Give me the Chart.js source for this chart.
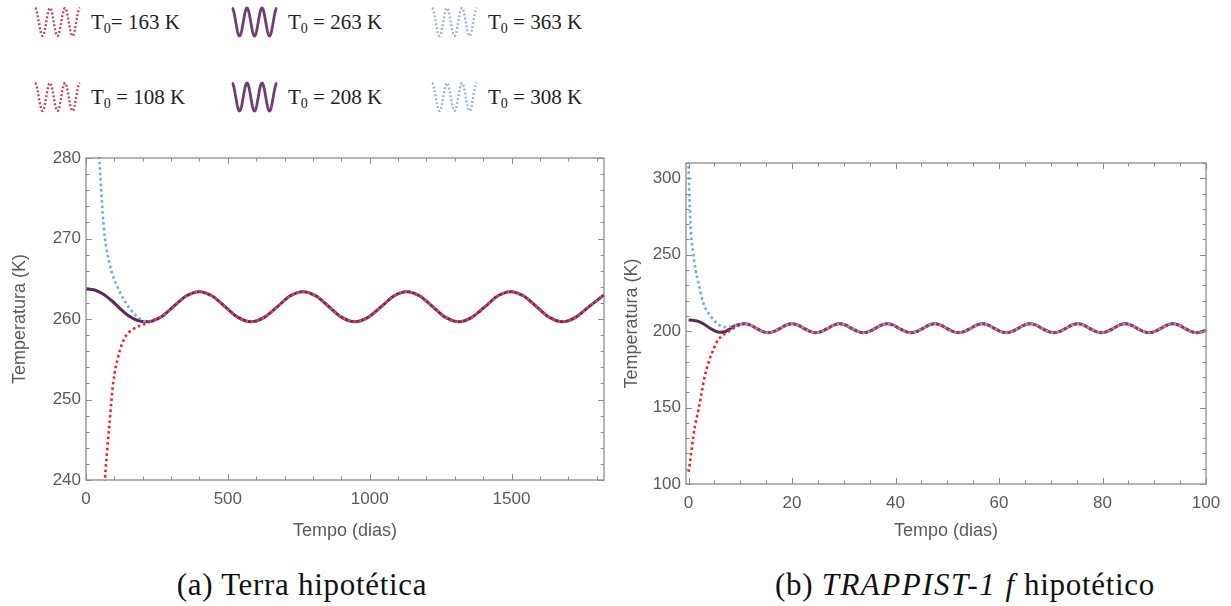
<!DOCTYPE html>
<html>
<head>
<meta charset="utf-8">
<script src="https://cdn.jsdelivr.net/npm/chart.js@4.4.1/dist/chart.umd.min.js"></script>
<style>
body{margin:0;background:#fff;width:1231px;height:606px;overflow:hidden;position:relative}
.painel{position:absolute;top:140px}
#painelA{left:0}
#painelB{left:615px}
.leg{position:absolute;display:flex;align-items:center;font-family:"Liberation Serif",serif;font-size:21px;color:#222;white-space:nowrap}
.leg canvas{margin-right:8px}
.leg sub{font-size:14px;vertical-align:-4px;line-height:0}
.legenda{position:absolute;top:567px;font-family:"Liberation Serif",serif;font-size:31px;letter-spacing:0.7px;color:#111;transform:translateX(-50%);white-space:nowrap}
.legenda i{letter-spacing:1.5px}
</style>
</head>
<body>

<div class="leg" style="left:33px;top:5px"><canvas id="ic1" width="50" height="34"></canvas><span>T<sub>0</sub>= 163 K</span></div>
<div class="leg" style="left:230px;top:5px"><canvas id="ic2" width="50" height="34"></canvas><span>T<sub>0</sub> = 263 K</span></div>
<div class="leg" style="left:430px;top:5px"><canvas id="ic3" width="50" height="34"></canvas><span>T<sub>0</sub> = 363 K</span></div>
<div class="leg" style="left:33px;top:80px"><canvas id="ic4" width="50" height="34"></canvas><span>T<sub>0</sub> = 108 K</span></div>
<div class="leg" style="left:230px;top:80px"><canvas id="ic5" width="50" height="34"></canvas><span>T<sub>0</sub> = 208 K</span></div>
<div class="leg" style="left:430px;top:80px"><canvas id="ic6" width="50" height="34"></canvas><span>T<sub>0</sub> = 308 K</span></div>

<div class="painel" id="painelA"><canvas id="terra" width="620" height="420"></canvas></div>
<div class="painel" id="painelB"><canvas id="trappist" width="616" height="420"></canvas></div>

<div class="legenda" style="left:302px">(a) Terra hipotética</div>
<div class="legenda" style="left:965px">(b) <i>TRAPPIST-1 f</i> hipotético</div>

<script>
// =============================
// DADOS - (a) Terra hipotetica
// =============================

// regime oscilante comum as tres curvas (dias, K)
const terraCicloX = [216,262,307,353,399,445,491,536,582,628,674,719,765,811,857,902,948,994,
  1040,1085,1131,1177,1223,1268,1314,1360,1406,1451,1497,1543,1589,1634,1680,1726,1772,1826]
const terraCicloT = [
  259.65,260.2,261.5,262.85,263.4,262.85,261.5,260.2,
  259.65,260.2,261.5,262.85,263.4,262.85,261.5,260.2,
  259.65,260.2,261.5,262.85,263.4,262.85,261.5,260.2,
  259.65,260.2,261.5,262.85,263.4,262.85,261.5,260.2,
  259.65,260.2,261.5,263.0]

// transientes
const terra263X = [0,30,60,90,120,150,180]
const terra263T = [263.7,263.6,263.1,262.3,261.3,260.4,259.85]
const terra363X = [20,30,40,47,52,59,67,79,91,108,132,155,184]
const terra363T = [313,297,286,280,277,273,270,267.5,265.8,264.2,262.5,261.25,260.2]
const terra163X = [50,60,67,75,82,96,114,137,167,208,240]
const terra163T = [228,235,240.2,243.8,246.7,252.1,255.4,257.7,258.75,259.4,259.9]

// =============================
// DADOS - (b) TRAPPIST-1 f
// =============================

const trapCicloX = [10.8,11.95,13.1,14.25,15.4,16.55,17.7,18.85,20.0,21.15,22.3,23.45,24.6,25.75,
  26.9,28.05,29.2,30.35,31.5,32.65,33.8,34.95,36.1,37.25,38.4,39.55,40.7,41.85,43.0,44.15,45.3,
  46.45,47.6,48.75,49.9,51.05,52.2,53.35,54.5,55.65,56.8,57.95,59.1,60.25,61.4,62.55,63.7,64.85,
  66.0,67.15,68.3,69.45,70.6,71.75,72.9,74.05,75.2,76.35,77.5,78.65,79.8,80.95,82.1,83.25,84.4,
  85.55,86.7,87.85,89.0,90.15,91.3,92.45,93.6,94.75,95.9,97.05,98.2,99.35,100]
const trapCicloT = [
  204.8,203.9,201.85,199.8,198.9,199.8,201.85,203.9,
  204.8,203.9,201.85,199.8,198.9,199.8,201.85,203.9,
  204.8,203.9,201.85,199.8,198.9,199.8,201.85,203.9,
  204.8,203.9,201.85,199.8,198.9,199.8,201.85,203.9,
  204.8,203.9,201.85,199.8,198.9,199.8,201.85,203.9,
  204.8,203.9,201.85,199.8,198.9,199.8,201.85,203.9,
  204.8,203.9,201.85,199.8,198.9,199.8,201.85,203.9,
  204.8,203.9,201.85,199.8,198.9,199.8,201.85,203.9,
  204.8,203.9,201.85,199.8,198.9,199.8,201.85,203.9,
  204.8,203.9,201.85,199.8,198.9,199.8,200.8]

const trap208X = [0,1,2,3,4,5,6,7,8,9,10]
const trap208T = [207.3,207.0,206.2,204.5,202.2,200.3,199.3,199.6,201.6,203.6,204.6]
const trap308X = [0,0.1,0.25,0.45,0.9,1.35,1.9,2.5,3.1,4.1,5.1,6.3,7.5,8.5,9.6]
const trap308T = [308,295,280,265,251,240,231.5,222.5,216,210.5,206.3,203.3,202.6,203.2,204.3]
const trap108X = [0,0.25,0.6,0.9,1.35,1.9,2.5,3.1,3.8,4.75,5.7,7.6,9.2]
const trap108T = [108,113.5,123.3,130.9,139.7,148.4,159.3,170.2,178.9,187.6,194.2,199.6,202.9]

// =============================
// CORES
// =============================

const VERMELHO = "#ff1a1a"
const AZUL = "#66aaf2"
const ROXO = "#5c2a5e"
const CINZA = "#8c8c8c"
const TEXTO = "#5a5a5a"


function pontos(xs, ts){
  return xs.map((x,i)=>({x:x, y:ts[i]}))
}

function ehMaior(v, passo){
  const r = v/passo
  return Math.abs(r-Math.round(r)) < 1e-6
}


// =============================
// MOLDURA COM TICKS PARA DENTRO
// =============================

const moldura = {
  id:"moldura",
  afterDraw(chart, args, opts){
    const {ctx, chartArea:a, scales} = chart
    ctx.save()
    ctx.strokeStyle = CINZA
    ctx.lineWidth = 1
    ctx.beginPath()
    scales.x.ticks.forEach(t=>{
      const p = Math.round(scales.x.getPixelForValue(t.value))+0.5
      const l = ehMaior(t.value, opts.xMaior) ? 6 : 3.5
      ctx.moveTo(p, a.bottom); ctx.lineTo(p, a.bottom-l)
      ctx.moveTo(p, a.top); ctx.lineTo(p, a.top+l)
    })
    scales.y.ticks.forEach(t=>{
      const p = Math.round(scales.y.getPixelForValue(t.value))+0.5
      const l = ehMaior(t.value, opts.yMaior) ? 6 : 3.5
      ctx.moveTo(a.left, p); ctx.lineTo(a.left+l, p)
      ctx.moveTo(a.right, p); ctx.lineTo(a.right-l, p)
    })
    ctx.stroke()
    ctx.lineWidth = 1.3
    ctx.strokeRect(a.left, a.top, a.right-a.left, a.bottom-a.top)
    ctx.restore()
  }
}


function serie(dados, cor, pontilhada, ordem){
  return {
    data:dados,
    borderColor:cor,
    borderWidth: pontilhada ? 2.6 : 3,
    borderDash: pontilhada ? [2.5,3] : [],
    cubicInterpolationMode:"monotone",
    pointRadius:0,
    fill:false,
    clip:1,
    order:ordem
  }
}


function criaGrafico(id, cfg){

  const fonteTick = {family:"Liberation Sans", size:17}
  const fonteTitulo = {family:"Liberation Sans", size:18}

  return new Chart(document.getElementById(id),{
    type:"line",
    data:{datasets:cfg.series},
    options:{
      responsive:false,
      animation:false,
      devicePixelRatio:1,
      layout:{padding:cfg.padding},
      plugins:{
        legend:{display:false},
        tooltip:{enabled:false},
        moldura:{xMaior:cfg.xMaior, yMaior:cfg.yMaior}
      },
      scales:{
        x:{
          type:"linear",
          min:cfg.xMin, max:cfg.xMax,
          grid:{display:false, drawTicks:false},
          border:{display:false},
          ticks:{
            stepSize:cfg.xPasso, autoSkip:false, maxRotation:0, includeBounds:false,
            padding:9, color:TEXTO, font:fonteTick,
            callback:v=> ehMaior(v, cfg.xMaior) ? String(v) : ""
          },
          title:{display:true, text:"Tempo (dias)", color:TEXTO, font:fonteTitulo, padding:{top:0,bottom:18}},
          afterFit:s=>{ s.height = cfg.alturaX }
        },
        y:{
          type:"linear",
          min:cfg.yMin, max:cfg.yMax,
          grid:{display:false, drawTicks:false},
          border:{display:false},
          ticks:{
            stepSize:cfg.yPasso, autoSkip:false, includeBounds:false,
            padding:5, color:TEXTO, font:fonteTick,
            callback:v=> ehMaior(v, cfg.yMaior) ? String(v) : ""
          },
          title:{display:true, text:"Temperatura (K)", color:TEXTO, font:fonteTitulo, padding:{top:cfg.tituloY,bottom:0}},
          afterFit:s=>{ s.width = cfg.larguraY }
        }
      }
    },
    plugins:[moldura]
  })
}


// =============================
// (a) TERRA
// =============================

criaGrafico("terra",{
  series:[
    serie(pontos(terra163X.concat(terraCicloX.slice(1)), terra163T.concat(terraCicloT.slice(1))), VERMELHO, true, 1),
    serie(pontos(terra363X.concat(terraCicloX), terra363T.concat(terraCicloT)), AZUL, true, 2),
    serie(pontos(terra263X.concat(terraCicloX), terra263T.concat(terraCicloT)), ROXO, false, 3)
  ],
  padding:{left:0, right:16, top:18, bottom:0},
  xMin:0, xMax:1826, xPasso:100, xMaior:500,
  yMin:240, yMax:280, yPasso:2, yMaior:10,
  alturaX:80, larguraY:86, tituloY:9
})


// =============================
// (b) TRAPPIST-1 f
// =============================

criaGrafico("trappist",{
  series:[
    serie(pontos(trap108X.concat(trapCicloX), trap108T.concat(trapCicloT)), VERMELHO, true, 1),
    serie(pontos(trap308X.concat(trapCicloX), trap308T.concat(trapCicloT)), AZUL, true, 2),
    serie(pontos(trap208X.concat(trapCicloX), trap208T.concat(trapCicloT)), ROXO, false, 3)
  ],
  padding:{left:0, right:25, top:23, bottom:0},
  xMin:-0.5, xMax:100, xPasso:5, xMaior:20,
  yMin:100, yMax:310, yPasso:10, yMaior:50,
  alturaX:76, larguraY:71, tituloY:6
})


// =============================
// ICONES DA LEGENDA
// =============================

function icone(id, cor, pontilhado){
  const c = document.getElementById(id).getContext("2d")
  c.strokeStyle = cor
  c.lineWidth = pontilhado ? 2.4 : 2.8
  if(pontilhado) c.setLineDash([2,2])
  c.beginPath()
  for(let i=0;i<=120;i++){
    const t = i/120
    const px = 2 + t*45
    const py = 17 - 14*Math.cos(t*6*Math.PI)
    if(i===0) c.moveTo(px,py); else c.lineTo(px,py)
  }
  c.stroke()
}

icone("ic1","#c94a4a",true)
icone("ic2","#6e3f72",false)
icone("ic3","#9fb6d9",true)
icone("ic4","#c94a4a",true)
icone("ic5","#6e3f72",false)
icone("ic6","#9fb6d9",true)
</script>
</body>
</html>
